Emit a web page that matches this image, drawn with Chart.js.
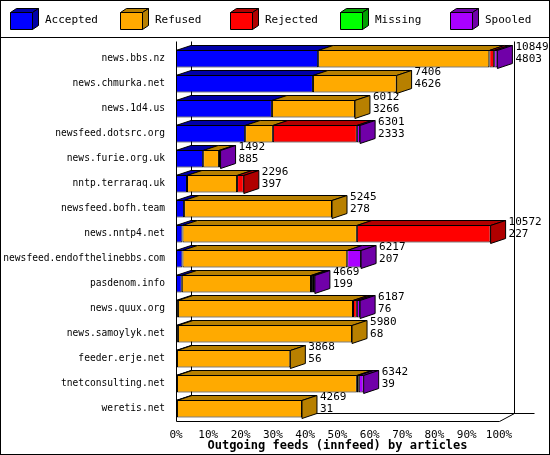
<!DOCTYPE html>
<html><head><meta charset="utf-8">
<script src="https://cdn.jsdelivr.net/npm/chart.js@4/dist/chart.umd.min.js"></script>
<style>body{margin:0;background:#fff}#wrap{width:550px;height:455px}</style>
</head><body><div id="wrap"><canvas id="c" width="550" height="455"></canvas></div>
<script>
// Données (en % de la plus grande valeur)
var hosts = ['news.bbs.nz','news.chmurka.net','news.1d4.us','newsfeed.dotsrc.org','news.furie.org.uk','nntp.terraraq.uk','newsfeed.bofh.team','news.nntp4.net','newsfeed.endofthelinebbs.com','pasdenom.info','news.quux.org','news.samoylyk.net','feeder.erje.net','tnetconsulting.net','weretis.net'];
var accepted = [44, 42.4, 29.7, 21.4, 8.4, 3.4, 2.5, 2, 2, 1.8, 0.6, 0.6, 0.3, 0.3, 0.3];
var refused  = [53, 25.9, 25.7, 8.6, 4.9, 15.5, 45.8, 54, 51, 40, 54.2, 53.9, 35.1, 55.7, 38.7];
var rejected = [1.5, 0, 0, 26, 0, 2.1, 0, 41.4, 0, 0.6, 1.2, 0, 0, 0.6, 0];
var missing  = [0, 0, 0, 0, 0, 0, 0, 0, 0, 0, 0, 0, 0, 0, 0];
var spooled  = [1, 0, 0, 1, 0.5, 0, 0, 0, 4.3, 0.6, 1, 0, 0, 1.5, 0];
var totals   = [10849, 7406, 6012, 6301, 1492, 2296, 5245, 10572, 6217, 4669, 6187, 5980, 3868, 6342, 4269];
var seconds  = [4803, 4626, 3266, 2333, 885, 397, 278, 227, 207, 199, 76, 68, 56, 39, 31];
var seriesNames = ['Accepted','Refused','Rejected','Missing','Spooled'];
var front = ['#0000ff','#ffaa00','#ff0000','#00ff00','#aa00ff'];
var dark  = ['#0000a8','#b88000','#b00000','#00a000','#7000a8'];

var DX = 15, DY = 5;
var MONO = '"DejaVu Sans Mono", monospace';
var FONT = '11px ' + MONO;

function poly(ctx, pts, fill){
  ctx.beginPath();
  ctx.moveTo(pts[0][0], pts[0][1]);
  for(var i=1;i<pts.length;i++) ctx.lineTo(pts[i][0], pts[i][1]);
  ctx.closePath();
  ctx.fillStyle = fill; ctx.fill();
  ctx.strokeStyle = '#000'; ctx.lineWidth = 1; ctx.stroke();
}

var decor = {
  id:'decor',
  beforeDraw: function(chart){
    var ctx = chart.ctx, a = chart.chartArea;
    ctx.save();
    ctx.fillStyle = '#fff'; ctx.fillRect(0,0,550,455);
    ctx.strokeStyle = '#000'; ctx.lineWidth = 1;
    ctx.strokeRect(0.5,0.5,549,454);
    ctx.beginPath(); ctx.moveTo(0,37.5); ctx.lineTo(550,37.5); ctx.stroke();
    // légende
    ctx.font = FONT; ctx.textBaseline = 'middle'; ctx.textAlign = 'left';
    for(var i=0;i<5;i++){
      var x = 10 + i*110;
      poly(ctx, [[x+0.5,12.5],[x+6.5,8.5],[x+28.5,8.5],[x+22.5,12.5]], dark[i]);
      poly(ctx, [[x+22.5,12.5],[x+28.5,8.5],[x+28.5,25.5],[x+22.5,29.5]], dark[i]);
      poly(ctx, [[x+0.5,12.5],[x+22.5,12.5],[x+22.5,29.5],[x+0.5,29.5]], front[i]);
      ctx.fillStyle = '#000'; ctx.fillText(seriesNames[i], x+35, 20);
    }
    // murs du fond
    var xs = chart.scales.x;
    var x0 = Math.round(xs.getPixelForValue(0))+0.5, x1 = Math.round(xs.getPixelForValue(100))+0.5;
    var b = Math.round(a.bottom)+0.5, t = Math.round(a.top)-4.5;
    ctx.beginPath();
    ctx.moveTo(x0, t); ctx.lineTo(x0, b); ctx.lineTo(x1, b); ctx.lineTo(x1+DX, b-8);
    ctx.moveTo(x0+DX, t); ctx.lineTo(x0+DX, b-8); ctx.lineTo(x1+DX+20, b-8);
    ctx.moveTo(x1+DX, t); ctx.lineTo(x1+DX, b-8);
    ctx.stroke();
    ctx.restore();
  },
  afterDatasetsDraw: function(chart){
    var ctx = chart.ctx;
    ctx.save();
    var n = hosts.length;
    for(var r=0;r<n;r++){
      var last = null;
      for(var d=0; d<5; d++){
        var el = chart.getDatasetMeta(d).data[r];
        var v = chart.data.datasets[d].data[r];
        if(!v) continue;
        var L = Math.min(el.x, el.base), R = Math.max(el.x, el.base);
        var T = Math.round(el.y - el.height/2)+0.5;
        poly(ctx, [[L,T],[R,T],[R+DX,T-DY],[L+DX,T-DY]], dark[d]);
        last = {R:R, T:T, B:Math.round(el.y + el.height/2)+0.5, d:d};
      }
      if(last){
        poly(ctx, [[last.R,last.T],[last.R+DX,last.T-DY],[last.R+DX,last.B-DY],[last.R,last.B]], dark[last.d]);
        ctx.font = FONT; ctx.fillStyle = '#000'; ctx.textAlign = 'left'; ctx.textBaseline = 'middle';
        ctx.fillText(String(totals[r]), last.R+DX+3, last.T-3);
        ctx.fillText(String(seconds[r]), last.R+DX+3, last.T+9);
      }
    }
    ctx.restore();
  }
};

var series = [accepted, refused, rejected, missing, spooled];
new Chart(document.getElementById('c'), {
  type:'bar',
  data:{
    labels: hosts,
    datasets: series.map(function(s,i){
      return {label:seriesNames[i], data:s, backgroundColor:front[i], borderColor:'#000',
        borderWidth:1, borderSkipped:false, categoryPercentage:0.72, barPercentage:1};
    })
  },
  options:{
    indexAxis:'y', responsive:false, animation:false,
    layout:{padding:{top:46, right:51, left:0, bottom:2}},
    plugins:{legend:{display:false}, tooltip:{enabled:false}},
    scales:{
      x:{stacked:true, min:0, max:100,
        ticks:{stepSize:10, color:'#000', font:{family:MONO, size:11}, padding:0,
          maxRotation:0, minRotation:0, autoSkip:false,
          callback:function(v){return v+'%';}},
        grid:{display:false}, border:{display:false},
        title:{display:true, text:'Outgoing feeds (innfeed) by articles', color:'#000', padding:{top:2,bottom:0},
          font:{family:MONO, size:12, weight:'bold'}},
        afterFit:function(s){s.height = 32;}},
      y:{stacked:true, ticks:{color:'#000', font:{family:MONO, size:9.6}, padding:3},
        grid:{display:false}, border:{display:false},
        afterFit:function(s){s.width = 176;}}
    }
  },
  plugins:[decor]
});
</script></body></html>
